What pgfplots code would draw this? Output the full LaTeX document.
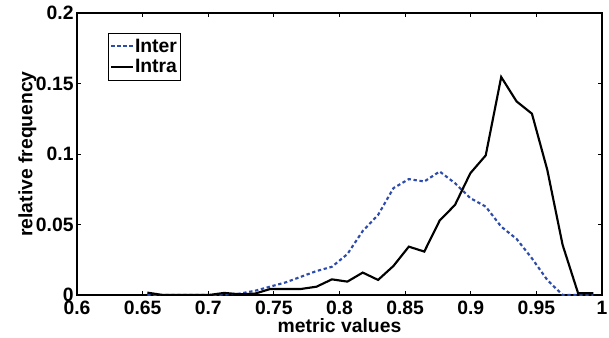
\documentclass[border=0pt]{standalone}
\usepackage{pgfplots}
\pgfplotsset{compat=1.18}
\usepackage{fontspec}
\setmainfont{Liberation Sans}
\definecolor{interblue}{RGB}{45,75,170}
\begin{document}
\begin{tikzpicture}
\begin{axis}[
  at={(0,0)}, anchor=south west,
  scale only axis,
  width=393.75pt, height=211.5pt,
  xmin=0.6, xmax=1, ymin=0, ymax=0.2,
  xtick={0.6,0.65,...,1.0},
  xticklabels={0.6,0.65,0.7,0.75,0.8,0.85,0.9,0.95,1},
  ytick={0,0.05,0.1,0.15,0.2},
  yticklabels={0,0.05,0.1,0.15,0.2},
  tick align=inside,
  major tick length=3pt,
  axis line style={line width=0.9pt},
  tick style={line width=0.6pt, black},
  ticklabel style={font=\fontsize{14.5}{16}\selectfont\bfseries},
  xticklabel style={yshift=-1pt},
  yticklabel style={xshift=1pt},
  xlabel={metric values},
  ylabel={relative frequency},
  label style={font=\fontsize{14.5}{16}\selectfont\bfseries},
  xlabel style={at={(0.5,0)}, anchor=north, yshift=-14pt},
  ylabel style={at={(0,0.5)}, anchor=south, yshift=27pt},
  legend style={at={(0.059,0.929)}, anchor=north west,
    font=\fontsize{14.5}{16}\selectfont\bfseries,
    draw=black, line width=0.6pt, inner xsep=1.5pt, inner ysep=1.5pt, row sep=-1pt,
    nodes={inner xsep=1pt, inner ysep=0.25em},
    legend cell align=left},
  legend image post style={line width=1.5pt},
  legend image code/.code={\draw[#1] (0pt,0pt) -- (16pt,0pt);},
]
\addplot[interblue, line width=1.6pt, dash pattern=on 2.5pt off 2pt] coordinates {
(0.6536,0) (0.6653,0) (0.6770,0) (0.6888,0) (0.7005,0) (0.7122,0.0003)
(0.7239,0.001) (0.7356,0.003) (0.7474,0.006) (0.7591,0.009) (0.7708,0.013)
(0.7825,0.017) (0.7942,0.020) (0.8060,0.029) (0.8177,0.0454) (0.8294,0.0568)
(0.8411,0.0758) (0.8528,0.0822) (0.8646,0.0805) (0.8763,0.0876) (0.8880,0.0793)
(0.8997,0.0687) (0.9114,0.0627) (0.9232,0.0485) (0.9349,0.0398) (0.9466,0.026)
(0.9583,0.0107) (0.9700,0) (0.9818,0) (0.9935,0)
};
\addlegendentry{Inter}
\addplot[black, line width=1.6pt] coordinates {
(0.6536,0.0017) (0.6653,0) (0.6770,0) (0.6888,0) (0.7005,0) (0.7122,0.0015)
(0.7239,0.0005) (0.7356,0.001) (0.7474,0.0043) (0.7591,0.0043) (0.7708,0.0043)
(0.7825,0.0059) (0.7942,0.0111) (0.8060,0.0095) (0.8177,0.0159) (0.8294,0.0107)
(0.8411,0.0206) (0.8528,0.0343) (0.8646,0.0308) (0.8763,0.0528) (0.8880,0.0639)
(0.8997,0.0864) (0.9114,0.0990) (0.9232,0.1546) (0.9349,0.1373) (0.9466,0.1286)
(0.9583,0.0888) (0.9700,0.0355) (0.9818,0.0012) (0.9935,0.0012)
};
\addlegendentry{Intra}
\end{axis}
\pgfresetboundingbox
\path[use as bounding box] (-57.75pt,-31.5pt) rectangle (399pt,221.25pt);
\end{tikzpicture}
\end{document}
